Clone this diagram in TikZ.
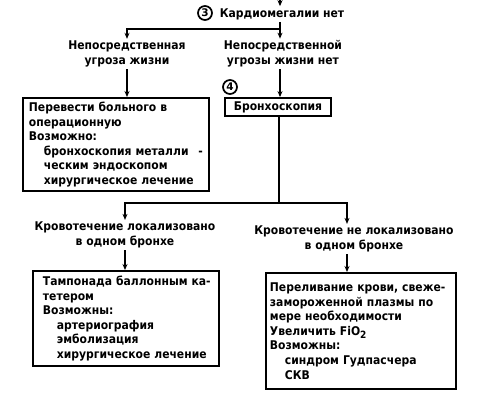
\documentclass[tikz,border=0pt]{standalone}
\usepackage{fontspec}
\setmainfont{DejaVu Sans Condensed}
\newfontfamily\numfont{DejaVu Sans Bold}
\usetikzlibrary{arrows.meta,calc}
\tikzset{
  conn/.style={line width=1.6pt},
  arr/.style={line width=1.6pt,-{Stealth[length=6pt,width=5pt]}},
  lbl/.style={align=center,inner sep=2pt,font=\bfseries\fontsize{12}{14.6}\selectfont},
  boxnode/.style={draw,line width=1.9pt,align=left,anchor=north west,inner ysep=0pt,font=\bfseries\fontsize{12}{14.6}\selectfont},
  num/.style={circle,draw,line width=1.7pt,inner sep=0pt,minimum size=14pt,font=\numfont\fontsize{10.5}{10.5}\selectfont},
}
\newcommand{\ind}{\hspace*{15pt}}
\begin{document}
\begin{tikzpicture}[x=1pt,y=-1pt]
\useasboundingbox (0,0) rectangle (484,400);
% top
\coordinate (top) at (280,0);
\node[lbl] (card) at (282,14) {Кардиомегалии нет};
\node[num] (c3) at (205,13) {3};
\coordinate (j1) at (280,29);
\node[lbl] (t1l) at (127,54) {Непосредственная\\угроза жизни};
\node[lbl] (t1r) at (283,54) {Непосредственной\\угрозы жизни нет};
\node[num] (c4) at (230,87) {4};
\node[boxnode,inner xsep=6pt,text width=174pt,minimum height=93pt] (b1) at (22,97)
 {Перевести больного в\\операционную\\Возможно:\\\ind\mbox{бронхоскопия металли}\hfill-\\\ind ческим эндоскопом\\\ind\mbox{хирургическое лечение}};
\node[draw,line width=1.9pt,minimum width=106pt,minimum height=18pt,inner sep=0pt,font=\bfseries\fontsize{12}{14.6}\selectfont] (b2) at (278,107) {Бронхоскопия};
\coordinate (j2) at (279,203);
\node[lbl] (t2l) at (125,235) {Кровотечение локализовано\\в одном бронхе};
\node[lbl] (t2r) at (354,239) {Кровотечение не локализовано\\в одном бронхе};
\coordinate (jR) at (347,203);
\node[boxnode,inner xsep=10pt,text width=166pt,minimum height=95pt] (b3) at (32,270)
 {\mbox{Тампонада баллонным ка-}\\тетером\\Возможны:\\\hspace*{14pt}артериография\\\hspace*{14pt}эмболизация\\\hspace*{14pt}\mbox{хирургическое лечение}};
\node[boxnode,inner xsep=4pt,text width=182pt,minimum height=116pt] (b4) at (265,272)
 {\mbox{Переливание крови, свеже-}\\замороженной плазмы по\\мере необходимости\\Увеличить FiO\raisebox{-3pt}{\fontsize{10}{10}\selectfont 2}\\Возможны:\\\ind синдром Гудпасчера\\\ind СКВ};
% connectors
\draw[arr] (top) -- (card.north -| top);
\draw[arr] (card.south -| j1) -- (t1r.north -| j1);
\draw[arr] (j1) -| (t1l.north);
\draw[arr] (t1l.south) -- (t1l.south |- b1.north);
\draw[arr] (t1r.south -| j1) -- (b2.north -| j1);
\draw[conn] (b2.south -| j2) -- (j2);
\draw[arr] (j2) -| (t2l.north);
\draw[arr] (j2) -| (t2r.north -| jR);
\draw[arr] (t2l.south) -- (t2l.south |- b3.north);
\draw[arr] (t2r.south -| jR) -- (b4.north -| jR);
\end{tikzpicture}
\end{document}
